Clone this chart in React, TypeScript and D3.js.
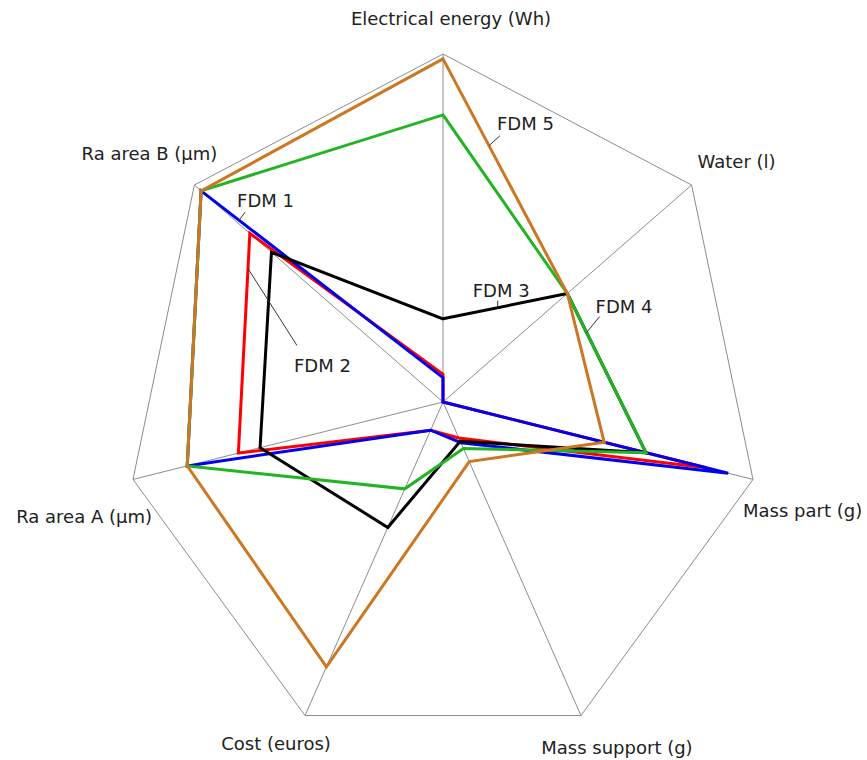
import * as d3 from 'd3'

// axes, clockwise from the top
const axes = [
  'Electrical energy (Wh)',
  'Water (l)',
  'Mass part (g)',
  'Mass support (g)',
  'Cost (euros)',
  'Ra area A (µm)',
  'Ra area B (µm)'
]

// normalised values (fraction of the outer ring)
const fdm1 = [0.07, 0, 0.92, 0.13, 0.09, 0.825, 0.973]
const fdm2 = [0.08, 0, 0.85, 0.115, 0.09, 0.66, 0.777]
const fdm3 = [0.239, 0.5, 0.655, 0.125, 0.4, 0.59, 0.69]
const fdm4 = [0.825, 0.5, 0.655, 0.148, 0.277, 0.825, 0.973]
const fdm5 = [0.986, 0.5, 0.52, 0.19, 0.845, 0.825, 0.973]

const seriesNames = ['FDM 1', 'FDM 2', 'FDM 3', 'FDM 4', 'FDM 5']
const seriesValues = [fdm1, fdm2, fdm3, fdm4, fdm5]
const seriesColors = ['#0000ee', '#ff0000', '#000000', '#22b422', '#cc7722']
const drawOrder = [1, 0, 2, 3, 4]

const width = 867
const height = 760
const cx = 443
const cy = 402

const rx = d3.scaleLinear().domain([0, 1]).range([0, 318])
const ry = d3.scaleLinear().domain([0, 1]).range([0, 348])
const angle = d3.scaleLinear().domain([0, axes.length]).range([0, 2 * Math.PI])

const pt = (i: number, v: number): [number, number] => {
  const a = angle(i)
  return [cx + rx(v) * Math.sin(a), cy - ry(v) * Math.cos(a)]
}

const closed = d3.line().curve(d3.curveLinearClosed)

// axis label placement relative to the outer vertex
const labelPos: { dx: number; dy: number; anchor: string }[] = [
  { dx: 8, dy: -29, anchor: 'middle' },
  { dx: 6, dy: -17, anchor: 'start' },
  { dx: -10, dy: 38, anchor: 'start' },
  { dx: 36, dy: 38, anchor: 'middle' },
  { dx: -29, dy: 34, anchor: 'middle' },
  { dx: 19, dy: 44, anchor: 'end' },
  { dx: 23, dy: -25, anchor: 'end' }
]

// series callouts: point on the segment from axis `from` to the next axis at t
const callouts = [
  { series: 0, from: 6, t: 0.157, lx: 6, ly: -8, tx: -8, ty: -5 },
  { series: 1, from: 5, t: 0.84, lx: 49, ly: 77, tx: -3, ty: 26 },
  { series: 2, from: 0, t: 0.44, lx: 0, ly: -7, tx: -25, ty: -4 },
  { series: 3, from: 1, t: 0.245, lx: 13, ly: -16, tx: -4, ty: -4 },
  { series: 4, from: 0, t: 0.37, lx: 11, ly: -10, tx: -3, ty: -6 }
]

export default function App() {
  const n = axes.length
  const outer = d3.range(n).map(i => pt(i, 1))

  return (
    <svg
      width={width}
      height={height}
      style={{ position: 'absolute', left: 0, top: 0, background: '#fff' }}
      fontFamily="DejaVu Sans, Verdana, sans-serif"
      fontSize={18}
    >
      <path d={closed(outer) ?? ''} fill="none" stroke="#8c8c8c" strokeWidth={1} />
      {outer.map((p, i) => (
        <line key={i} x1={cx} y1={cy} x2={p[0]} y2={p[1]} stroke="#8c8c8c" strokeWidth={1} />
      ))}

      {drawOrder.map(s => (
        <path
          key={s}
          d={closed(seriesValues[s].map((v, i) => pt(i, v))) ?? ''}
          fill="none"
          stroke={seriesColors[s]}
          strokeWidth={3}
          strokeLinejoin="miter"
        />
      ))}

      {callouts.map((c, k) => {
        const vals = seriesValues[c.series]
        const a = pt(c.from, vals[c.from])
        const nxt = (c.from + 1) % n
        const b = pt(nxt, vals[nxt])
        const x0 = a[0] + (b[0] - a[0]) * c.t
        const y0 = a[1] + (b[1] - a[1]) * c.t
        const x1 = x0 + c.lx
        const y1 = y0 + c.ly
        return (
          <g key={k}>
            <line x1={x0} y1={y0} x2={x1} y2={y1} stroke="#333" strokeWidth={1} />
            <text x={x1 + c.tx} y={y1 + c.ty} fill="#222">
              {seriesNames[c.series]}
            </text>
          </g>
        )
      })}

      {outer.map((p, i) => (
        <text
          key={i}
          x={p[0] + labelPos[i].dx}
          y={p[1] + labelPos[i].dy}
          textAnchor={labelPos[i].anchor}
          fill="#222"
        >
          {axes[i]}
        </text>
      ))}
    </svg>
  )
}
